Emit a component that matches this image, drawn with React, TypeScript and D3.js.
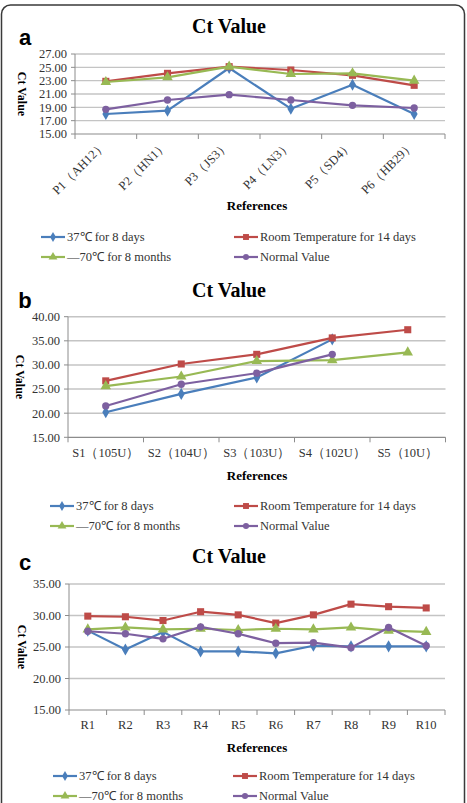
import React from 'react';
import * as d3 from 'd3';

// Series labels and colours shared by all three panels
const seriesNames = ['37℃ for 8 days', 'Room Temperature for 14 days', '—70℃ for 8 months', 'Normal Value'];
const seriesColors = ['#4a7ebb', '#be4b48', '#98b954', '#7d60a0'];

// Panel a
const plasmidRefs = ['P1（AH12）', 'P2（HN1）', 'P3（JS3）', 'P4（LN3）', 'P5（SD4）', 'P6（HB29）'];
const plasmid37 = [18.0, 18.5, 24.9, 18.8, 22.4, 18.0];
const plasmidRoom = [22.9, 24.1, 25.1, 24.6, 23.8, 22.3];
const plasmidMinus70 = [22.8, 23.5, 25.1, 24.0, 24.1, 23.0];
const plasmidNormal = [18.7, 20.1, 20.9, 20.1, 19.3, 18.9];
const plasmidTicks = [15, 17, 19, 21, 23, 25, 27];

// Panel b
const serialRefs = ['S1（105U）', 'S2（104U）', 'S3（103U）', 'S4（102U）', 'S5（10U）'];
const serial37 = [20.2, 24.0, 27.4, 35.3, null];
const serialRoom = [26.7, 30.2, 32.2, 35.6, 37.3];
const serialMinus70 = [25.6, 27.6, 30.8, 31.0, 32.6];
const serialNormal = [21.5, 26.0, 28.3, 32.2, null];
const serialTicks = [15, 20, 25, 30, 35, 40];

// Panel c
const repeatRefs = ['R1', 'R2', 'R3', 'R4', 'R5', 'R6', 'R7', 'R8', 'R9', 'R10'];
const repeat37 = [27.6, 24.6, 27.4, 24.3, 24.3, 24.0, 25.2, 25.1, 25.1, 25.1];
const repeatRoom = [29.9, 29.8, 29.2, 30.6, 30.1, 28.8, 30.1, 31.8, 31.4, 31.2];
const repeatMinus70 = [27.8, 28.1, 27.8, 27.9, 27.7, 27.9, 27.8, 28.1, 27.6, 27.4];
const repeatNormal = [27.5, 27.1, 26.3, 28.2, 27.1, 25.6, 25.7, 24.9, 28.1, 25.2];
const repeatTicks = [15, 20, 25, 30, 35];

const SERIF = '"Liberation Serif", "Times New Roman", serif';
const SANS = '"Liberation Sans", Arial, sans-serif';

const symbolTypes = [d3.symbolDiamond, d3.symbolSquare, d3.symbolTriangle, d3.symbolCircle];
const symbolSizes = [42, 50, 48, 42];

const marker = (i, scale = 1) =>
  d3.symbol().type(symbolTypes[i]).size(symbolSizes[i] * scale)();

const Panel = ({ letter, letterY, titleY, refs, series, ticks, plot, axisTitleX, rotateLabels, labelY, refsY, legend }) => {
  const x = d3.scaleBand().domain(refs).range([plot.left, plot.right]);
  const y = d3.scaleLinear().domain([ticks[0], ticks[ticks.length - 1]]).range([plot.bottom, plot.top]);
  const line = d3.line()
    .defined(d => d.v != null)
    .x(d => x(d.c) + x.bandwidth() / 2)
    .y(d => y(d.v));
  const bounds = [...refs.map(r => x(r)), plot.right];

  return (
    <g>
      <text x={25} y={letterY} fontFamily={SANS} fontWeight="bold" fontSize={22} textAnchor="middle">{letter}</text>
      <text x={229} y={titleY} fontFamily={SERIF} fontWeight="bold" fontSize={20} textAnchor="middle">Ct Value</text>

      {/* gridlines and y ticks */}
      {ticks.map(t => (
        <g key={t}>
          {t !== ticks[0] && (
            <line x1={plot.left} x2={plot.right} y1={y(t)} y2={y(t)} stroke="#c4c4c4" strokeWidth={1.4} />
          )}
          <line x1={plot.left - 4} x2={plot.left} y1={y(t)} y2={y(t)} stroke="#8c8c8c" />
          <text x={plot.left - 8} y={y(t)} dy="0.35em" fontFamily={SERIF} fontSize={12.5} fill="#333" textAnchor="end">
            {t.toFixed(2)}
          </text>
        </g>
      ))}
      <line x1={plot.left} x2={plot.left} y1={plot.top} y2={plot.bottom} stroke="#8c8c8c" />
      <line x1={plot.left} x2={plot.right} y1={plot.bottom} y2={plot.bottom} stroke="#8c8c8c" strokeWidth={1.2} />
      {bounds.map((b, i) => (
        <line key={i} x1={b} x2={b} y1={plot.bottom} y2={plot.bottom + 5} stroke="#8c8c8c" />
      ))}

      <text
        transform={`translate(${axisTitleX},${(plot.top + plot.bottom) / 2}) rotate(90)`}
        fontFamily={SERIF} fontWeight="bold" fontSize={12} textAnchor="middle"
      >Ct Value</text>

      {/* category labels */}
      {refs.map(r => {
        const cx = x(r) + x.bandwidth() / 2;
        return rotateLabels ? (
          <text key={r} transform={`translate(${cx + 1},${plot.bottom + 12}) rotate(-45)`}
            fontFamily={SERIF} fontSize={12.5} fill="#333" textAnchor="end">{r}</text>
        ) : (
          <text key={r} x={cx} y={labelY} fontFamily={SERIF} fontSize={12.5} fill="#333" textAnchor="middle">{r}</text>
        );
      })}
      <text x={257} y={refsY} fontFamily={SERIF} fontWeight="bold" fontSize={13} textAnchor="middle">References</text>

      {/* series */}
      {series.map((vals, i) => {
        const pts = refs.map((c, j) => ({ c, v: vals[j] }));
        return (
          <g key={i}>
            <path d={line(pts)} fill="none" stroke={seriesColors[i]} strokeWidth={2.2} strokeLinejoin="round" />
            {pts.filter(p => p.v != null).map(p => (
              <path key={p.c} d={marker(i)} fill={seriesColors[i]}
                transform={`translate(${x(p.c) + x.bandwidth() / 2},${y(p.v)})`} />
            ))}
          </g>
        );
      })}

      {/* legend */}
      {seriesNames.map((name, i) => {
        const col = i % 2 === 0 ? legend.x1 : legend.x2;
        const ly = i < 2 ? legend.y1 : legend.y2;
        return (
          <g key={name}>
            <line x1={col} x2={col + 24} y1={ly} y2={ly} stroke={seriesColors[i]} strokeWidth={2.2} />
            <path d={marker(i, 0.7)} fill={seriesColors[i]} transform={`translate(${col + 12},${ly})`} />
            <text x={col + 26} y={ly} dy="0.35em" fontFamily={SERIF} fontSize={12.5} fill="#333">{name}</text>
          </g>
        );
      })}
    </g>
  );
};

export default function App() {
  return (
    <div style={{ position: 'absolute', left: 0, top: 0 }}>
      <svg width={467} height={803} style={{ display: 'block', background: '#fff' }}>
        <rect x={1.5} y={5} width={463} height={840} rx={9} fill="none" stroke="#3a3a3a" strokeWidth={1.5} />
        <Panel
          letter="a" letterY={45} titleY={33}
          refs={plasmidRefs}
          series={[plasmid37, plasmidRoom, plasmidMinus70, plasmidNormal]}
          ticks={plasmidTicks}
          plot={{ left: 75, right: 445, top: 54, bottom: 134 }}
          axisTitleX={18}
          rotateLabels labelY={0} refsY={210}
          legend={{ x1: 41, x2: 234, y1: 237, y2: 257 }}
        />
        <Panel
          letter="b" letterY={308} titleY={297}
          refs={serialRefs}
          series={[serial37, serialRoom, serialMinus70, serialNormal]}
          ticks={serialTicks}
          plot={{ left: 68, right: 445.5, top: 316.7, bottom: 437.3 }}
          axisTitleX={16}
          labelY={457} refsY={480}
          legend={{ x1: 50, x2: 234, y1: 506, y2: 526 }}
        />
        <Panel
          letter="c" letterY={570} titleY={563}
          refs={repeatRefs}
          series={[repeat37, repeatRoom, repeatMinus70, repeatNormal]}
          ticks={repeatTicks}
          plot={{ left: 69, right: 445, top: 584, bottom: 710 }}
          axisTitleX={18}
          labelY={729} refsY={752}
          legend={{ x1: 53, x2: 233, y1: 776, y2: 796 }}
        />
      </svg>
    </div>
  );
}
